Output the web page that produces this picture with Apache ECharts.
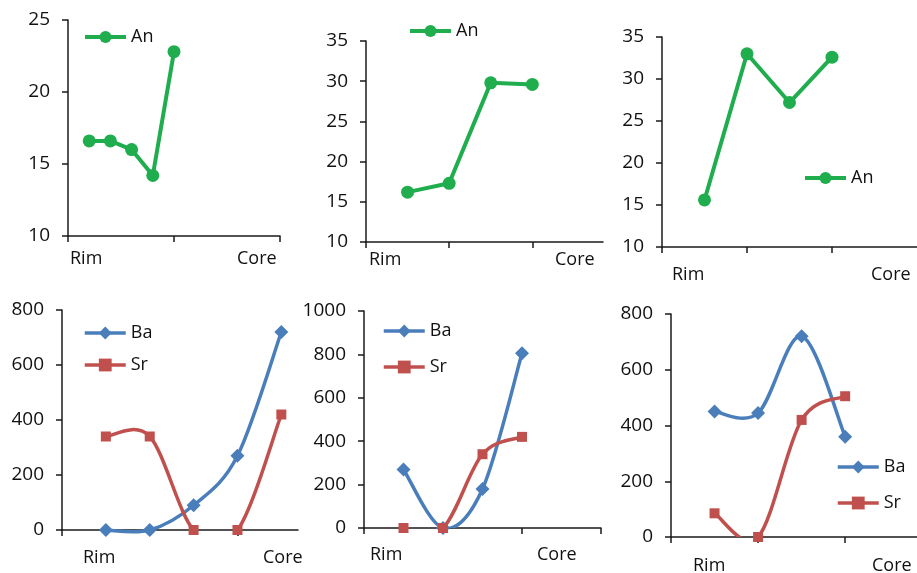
<!DOCTYPE html>
<html>
<head>
<meta charset="utf-8">
<script src="https://cdn.jsdelivr.net/npm/echarts@6/dist/echarts.min.js"></script>
<style>
html,body{margin:0;padding:0;background:#fff;}
#c{width:917px;height:573px;}
</style>
</head>
<body>
<div id="c"></div>
<script>
// ---- data ----
const anA = [16.6, 16.6, 16.0, 14.2, 22.8];
const anB = [16.2, 17.3, 29.8, 29.6];
const anC = [15.6, 33.0, 27.2, 32.6];
const baA = [0, 0, 90, 270, 720];
const srA = [340, 340, 0, 0, 420];
const baB = [270, 0, 180, 805];
const srB = [0, 0, 340, 420];
const baC = [450, 445, 720, 360];
const srC = [85, 0, 420, 505];
const edgeLabels = ['Rim', 'Core'];

const FONT = 'Open Sans';
const GREEN = '#1fad4e';
const BLUE = '#4a7ebb';
const RED = '#c0504d';

function pts(arr) { return arr.map((v, i) => [i + 1, v]); }

const grids = [
  {left: 68, top: 20, width: 212, height: 216},
  {left: 366, top: 41, width: 237, height: 201},
  {left: 662, top: 37, width: 256, height: 210},
  {left: 62, top: 310, width: 236, height: 220},
  {left: 364, top: 311, width: 237, height: 217},
  {left: 671, top: 314, width: 246, height: 223}
];
const xCfg = [
  {max: 10, ticks: [0, 5, 10]},
  {max: 5.7, ticks: [0, 2, 4]},
  {max: 6, ticks: [0, 2, 4]},
  {max: 5.38, ticks: [0, 4]},
  {max: 6, ticks: [0, 4, 6]},
  {max: 5.65, ticks: [0, 2, 4]}
];
const yCfg = [
  {min: 10, max: 25, interval: 5},
  {min: 10, max: 35, interval: 5},
  {min: 10, max: 35, interval: 5},
  {min: 0, max: 800, interval: 200},
  {min: 0, max: 1000, interval: 200},
  {min: 0, max: 800, interval: 200}
];
const AXC = '#1a1a1a';
const axisLine = {show: true, lineStyle: {color: AXC, width: 1.5}};

const xAxis = xCfg.map((c, i) => ({
  type: 'value', gridIndex: i, min: 0, max: c.max,
  axisLine: axisLine,
  axisTick: {show: true, customValues: c.ticks, length: 6, lineStyle: {color: AXC, width: 1.5}},
  axisLabel: {show: false},
  splitLine: {show: false}
}));
const yAxis = yCfg.map((c, i) => ({
  type: 'value', gridIndex: i, min: c.min, max: c.max, interval: c.interval,
  axisLine: axisLine,
  axisTick: {show: true, length: 6, lineStyle: {color: AXC, width: 1.5}},
  axisLabel: {color: '#111', fontFamily: FONT, fontSize: 19, margin: 18, formatter: v => String(v)},
  splitLine: {show: false}
}));

// Excel-style (Catmull-Rom) smoothed line drawn through the axis scales
function curveSeries(arr, i, color, width, clip) {
  const data = pts(arr);
  return {
    type: 'custom', xAxisIndex: i, yAxisIndex: i, data: data, clip: clip !== false, silent: true,
    encode: {x: 0, y: 1}, z: 1, animation: false,
    renderItem: function (params, api) {
      const k = params.dataIndex;
      if (k >= data.length - 1) return null;
      const P = j => api.coord(data[Math.max(0, Math.min(data.length - 1, j))]);
      const p0 = P(k - 1), p1 = P(k), p2 = P(k + 1), p3 = P(k + 2);
      return {
        type: 'bezierCurve',
        shape: {
          x1: p1[0], y1: p1[1], x2: p2[0], y2: p2[1],
          cpx1: p1[0] + (p2[0] - p0[0]) / 6, cpy1: p1[1] + (p2[1] - p0[1]) / 6,
          cpx2: p2[0] - (p3[0] - p1[0]) / 6, cpy2: p2[1] - (p3[1] - p1[1]) / 6
        },
        style: {stroke: color, lineWidth: width, fill: null, lineCap: 'round'}
      };
    }
  };
}

function anSeries(arr, i) {
  return {
    name: 'An', type: 'line', xAxisIndex: i, yAxisIndex: i, data: pts(arr),
    symbol: 'circle', symbolSize: 13, z: 3,
    lineStyle: {color: GREEN, width: 4}, itemStyle: {color: GREEN},
    animation: false
  };
}
function markSeries(name, arr, i, color, symbol, size) {
  return {
    name: name, type: 'line', xAxisIndex: i, yAxisIndex: i, data: pts(arr),
    symbol: symbol, symbolSize: size, z: 3,
    lineStyle: {color: color, width: 0}, itemStyle: {color: color},
    animation: false
  };
}
const series = [
  anSeries(anA, 0), anSeries(anB, 1), anSeries(anC, 2),
  curveSeries(baA, 3, BLUE, 3.5, false), curveSeries(srA, 3, RED, 3.5),
  curveSeries(baB, 4, BLUE, 3.5), curveSeries(srB, 4, RED, 3.5),
  curveSeries(baC, 5, BLUE, 3.5), curveSeries(srC, 5, RED, 3.5),
  markSeries('Ba', baA, 3, BLUE, 'diamond', 14), markSeries('Sr', srA, 3, RED, 'rect', 10),
  markSeries('Ba', baB, 4, BLUE, 'diamond', 14), markSeries('Sr', srB, 4, RED, 'rect', 10),
  markSeries('Ba', baC, 5, BLUE, 'diamond', 14), markSeries('Sr', srC, 5, RED, 'rect', 10)
];

const legendText = {color: '#111', fontFamily: FONT, fontSize: 18};
const itemAn = {name: 'An', lineStyle: {color: GREEN, width: 4, opacity: 1}, itemStyle: {color: GREEN}};
const itemBa = {name: 'Ba', lineStyle: {color: BLUE, width: 3.5, opacity: 1}, itemStyle: {color: BLUE}};
const itemSr = {name: 'Sr', lineStyle: {color: RED, width: 3.5, opacity: 1}, itemStyle: {color: RED}};
function legend(left, top, data, h, gap) {
  return {left: left, top: top, orient: 'vertical', data: data, itemWidth: 41, itemHeight: h,
    itemGap: gap || 10, textStyle: legendText, selectedMode: false, padding: 0};
}
const legends = [
  legend(83, 28, [itemAn], 15),
  legend(408, 22, [itemAn], 15),
  legend(803, 169, [itemAn], 15),
  legend(83, 324, [itemBa, itemSr], 16, 14),
  legend(382, 322, [itemBa, itemSr], 16, 18),
  legend(836, 458, [itemBa, itemSr], 16, 18)
];

const labelPos = [
  [[70, 259], [237, 259]],
  [[369, 260], [555, 260]],
  [[672, 275], [871, 275]],
  [[83, 558], [263, 558]],
  [[370, 555], [537, 555]],
  [[693, 566], [872, 566]]
];
const graphic = [];
labelPos.forEach(p => {
  p.forEach((xy, k) => {
    graphic.push({type: 'text', x: xy[0], y: xy[1],
      style: {text: edgeLabels[k], fill: '#111', font: '18px "' + FONT + '"', textVerticalAlign: 'middle'}});
  });
});

const chart = echarts.init(document.getElementById('c'), null, {renderer: 'canvas'});
chart.setOption({
  animation: false,
  backgroundColor: '#fff',
  grid: grids,
  xAxis: xAxis,
  yAxis: yAxis,
  legend: legends,
  series: series,
  graphic: graphic
});
</script>
</body>
</html>
